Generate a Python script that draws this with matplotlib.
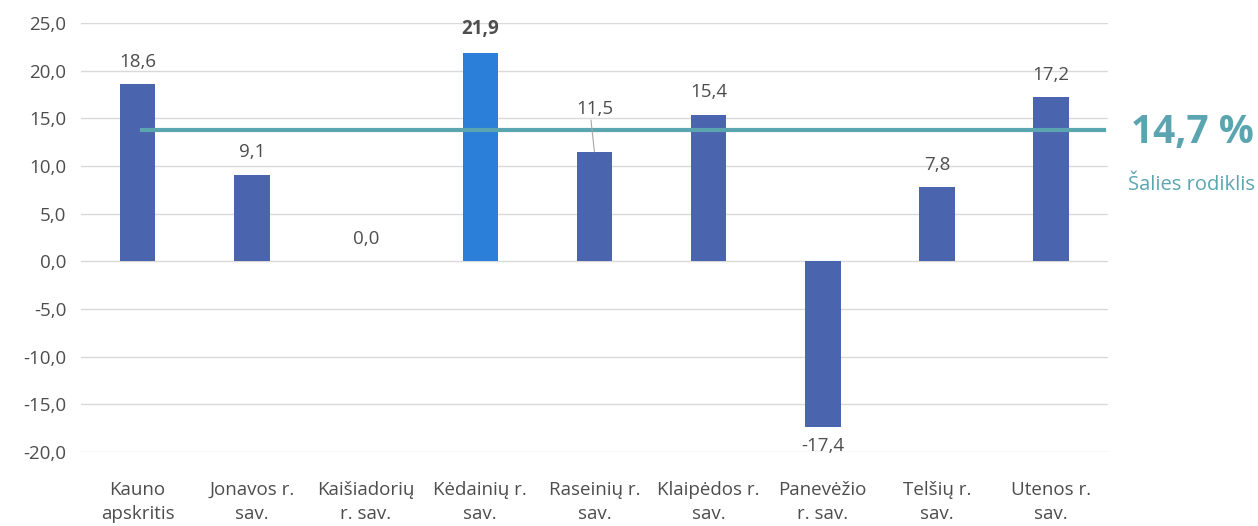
import matplotlib.pyplot as plt
import numpy as np

plt.rcParams['font.family'] = ['Open Sans', 'DejaVu Sans']

categories = ['Kauno\napskritis', 'Jonavos r.\nsav.', 'Kaišiadorių\nr. sav.', 'Kėdainių r.\nsav.',
              'Raseinių r.\nsav.', 'Klaipėdos r.\nsav.', 'Panevėžio\nr. sav.', 'Telšių r.\nsav.',
              'Utenos r.\nsav.']
values = [18.6, 9.1, 0.0, 21.9, 11.5, 15.4, -17.4, 7.8, 17.2]
highlight = 3
country_value = 14.7
country_line = 13.8   # as drawn in the original
country_label = 'Šalies rodiklis'

grey = '#4D4D4D'
bar_col = '#4A65AE'
hi_col = '#2B7FD9'
teal = '#5BA5B0'
fs = 13.5

fig = plt.figure(figsize=(12.58, 5.26), dpi=100)
ax = fig.add_axes([0.064, 0.1407, 0.817, 0.8156])

x = np.arange(len(values))
colors = [hi_col if i == highlight else bar_col for i in range(len(values))]
ax.bar(x, values, width=0.31, color=colors, zorder=3)

ax.plot([0.04, 8.46], [country_line, country_line], color=teal, lw=3, zorder=4, clip_on=False)

for i, v in enumerate(values):
    txt = f'{v:.1f}'.replace('.', ',')
    weight = 'bold' if i == highlight else 'normal'
    if i == 4:
        ax.text(i, v + 3.5, txt, ha='center', va='bottom', fontsize=fs, color=grey, zorder=5)
        ax.plot([i - 0.03, i], [v + 3.3, v], color='#A6A6A6', lw=0.8, zorder=5)
    elif v < 0:
        ax.text(i, v - 1.0, txt, ha='center', va='top', fontsize=fs, color=grey, clip_on=False)
    else:
        ax.text(i, v + 1.4, txt, ha='center', va='bottom', fontsize=fs, color=grey,
                fontweight=weight)

ax.set_xlim(-0.5, len(values) - 0.5)
ax.set_ylim(-20, 25)
ax.set_yticks(np.arange(-20, 26, 5))
ax.set_yticklabels([f'{t:.1f}'.replace('.', ',') for t in np.arange(-20, 26, 5)])
ax.set_xticks(x)
ax.set_xticklabels(categories, linespacing=1.45)
ax.tick_params(axis='both', length=0, labelsize=fs, colors=grey)
ax.tick_params(axis='x', pad=21)
ax.tick_params(axis='y', pad=10)
ax.grid(axis='y', color='#D9D9D9', lw=1, zorder=0)
for s in ax.spines.values():
    s.set_visible(False)

fig.text(0.997, 1 - 133 / 526, f'{country_value:.1f} %'.replace('.', ','), ha='right', va='center',
         fontsize=28, fontweight='bold', color=teal)
fig.text(0.998, 1 - 185 / 526, country_label, ha='right', va='center', fontsize=14.5, color=teal)

fig.savefig('out.png', dpi=100)
